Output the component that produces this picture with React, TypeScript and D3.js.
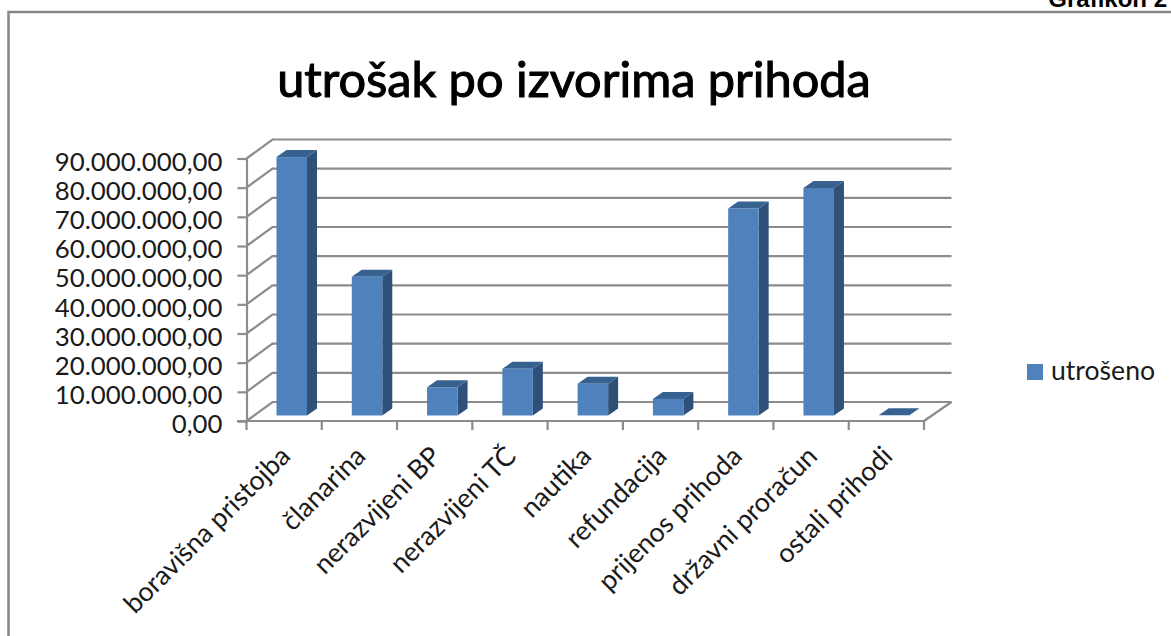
import { useEffect, useRef } from 'react'
import * as d3 from 'd3'

const WIDTH = 1171
const HEIGHT = 636

const categories = [
  'boravišna pristojba',
  'članarina',
  'nerazvijeni BP',
  'nerazvijeni TČ',
  'nautika',
  'refundacija',
  'prijenos prihoda',
  'državni proračun',
  'ostali prihodi',
]
const utroseno = [88600000, 47600000, 9700000, 16000000, 10900000, 5700000, 71000000, 78000000, 100000]
const yTicks = [0, 10000000, 20000000, 30000000, 40000000, 50000000, 60000000, 70000000, 80000000, 90000000]
const seriesName = 'utrošeno'
const chartTitle = 'utrošak po izvorima prihoda'
const pageLabel = 'Grafikon 2'

const FONT = 'Lato, "Open Sans", sans-serif'
const GRID = '#8c8c8c'
const TEXT = '#1a1a1a'

// fake 3D: the back wall is shifted from the front edge by this much
const WALL_DX = 26
const WALL_DY = -19
const BAR_DX = 10
const BAR_DY = -7
const BAR_INSET_Y = -5.5

const fmt = (v: number) =>
  d3.format(',.2f')(v).replace(/,/g, '#').replace('.', ',').replace(/#/g, '.')

export default function App() {
  const svgRef = useRef<SVGSVGElement>(null)

  useEffect(() => {
    const svg = d3.select(svgRef.current)
    svg.selectAll('*').remove()

    const x = d3.scaleBand().domain(categories).range([246.5, 924]).paddingInner(0)
    const y = d3.scaleLinear().domain([0, 90000000]).range([421, 158.5])
    const bw = x.bandwidth()
    const barW = 30.5
    const barOffset = 30

    // frame
    svg.append('path')
      .attr('d', `M8.5,${HEIGHT} V12 H${WIDTH}`)
      .attr('fill', 'none').attr('stroke', '#868686').attr('stroke-width', 2.5)

    svg.append('text')
      .attr('x', 1167).attr('y', 7).attr('text-anchor', 'end')
      .attr('font-family', '"Liberation Sans", sans-serif').attr('font-weight', 700).attr('font-size', 24)
      .attr('fill', '#000').text(pageLabel)

    // regular Lato with a thin stroke is closer to the original weight than bold
    svg.append('text')
      .attr('x', 574).attr('y', 97).attr('text-anchor', 'middle')
      .attr('font-family', FONT).attr('font-size', 48.7)
      .attr('stroke', '#000').attr('stroke-width', 1.1)
      .attr('fill', '#000').text(chartTitle)

    // back wall + side wall grid
    const grid = svg.append('g').attr('fill', 'none').attr('stroke', GRID).attr('stroke-width', 2.2)
    yTicks.forEach(t => {
      grid.append('path').attr('d',
        `M246.5,${y(t)} L${246.5 + WALL_DX},${y(t) + WALL_DY} H${924 + WALL_DX + 1.5}`)
    })
    grid.append('path').attr('d', `M924,421 L${924 + WALL_DX + 1.5},${421 + WALL_DY}`)

    // axes
    const yAxis = d3.axisLeft(y).tickValues(yTicks).tickFormat(d => fmt(d as number)).tickSize(9).tickPadding(15)
    const gy = svg.append('g').attr('transform', 'translate(246.5,0)').call(yAxis)
    gy.selectAll('line').attr('stroke', GRID).attr('stroke-width', 2.2)
    gy.select('.domain').attr('stroke', GRID).attr('stroke-width', 2.2)
    gy.selectAll('text')
      .attr('font-family', FONT).attr('font-size', 25.8).attr('fill', TEXT)
      .attr('transform', 'translate(0,3.5)')

    const ticksX = categories.map(c => (x(c) as number)).concat(924)
    const gx = svg.append('g')
    gx.append('line').attr('x1', 237).attr('x2', 924).attr('y1', 421).attr('y2', 421)
      .attr('stroke', GRID).attr('stroke-width', 2.2)
    gx.selectAll('line.tick').data(ticksX).join('line').attr('class', 'tick')
      .attr('x1', d => d).attr('x2', d => d).attr('y1', 421).attr('y2', 430)
      .attr('stroke', GRID).attr('stroke-width', 2.2)

    categories.forEach(c => {
      const cx = (x(c) as number) + bw / 2 + 3
      svg.append('text')
        .attr('transform', `translate(${cx},453) rotate(-45)`)
        .attr('text-anchor', 'end').attr('dominant-baseline', 'middle')
        .attr('font-family', FONT).attr('font-size', 26.8).attr('fill', TEXT)
        .text(c)
    })

    // 3D bars
    categories.forEach((c, i) => {
      const x0 = (x(c) as number) + barOffset
      const x1 = x0 + barW
      const yb = y(0) + BAR_INSET_Y
      const yt = y(utroseno[i]) + BAR_INSET_Y
      const g = svg.append('g')
      g.append('path')
        .attr('d', `M${x1},${yt} L${x1 + BAR_DX},${yt + BAR_DY} V${yb + BAR_DY} L${x1},${yb} Z`)
        .attr('fill', '#2f5079')
      g.append('path')
        .attr('d', `M${x0},${yt} L${x0 + BAR_DX},${yt + BAR_DY} H${x1 + BAR_DX} L${x1},${yt} Z`)
        .attr('fill', '#37618f')
      if (yb - yt > 1) {
        g.append('rect').attr('x', x0).attr('y', yt).attr('width', barW).attr('height', yb - yt)
          .attr('fill', '#4f81bd')
      }
    })

    // legend
    svg.append('rect').attr('x', 1027).attr('y', 364).attr('width', 16).attr('height', 16).attr('fill', '#4f81bd')
    svg.append('text').attr('x', 1051).attr('y', 380)
      .attr('font-family', FONT).attr('font-size', 26.6).attr('fill', TEXT).text(seriesName)
  }, [])

  return (
    <svg
      ref={svgRef}
      width={WIDTH}
      height={HEIGHT}
      style={{ position: 'absolute', left: 0, top: 0, display: 'block', background: '#fff' }}
    />
  )
}
